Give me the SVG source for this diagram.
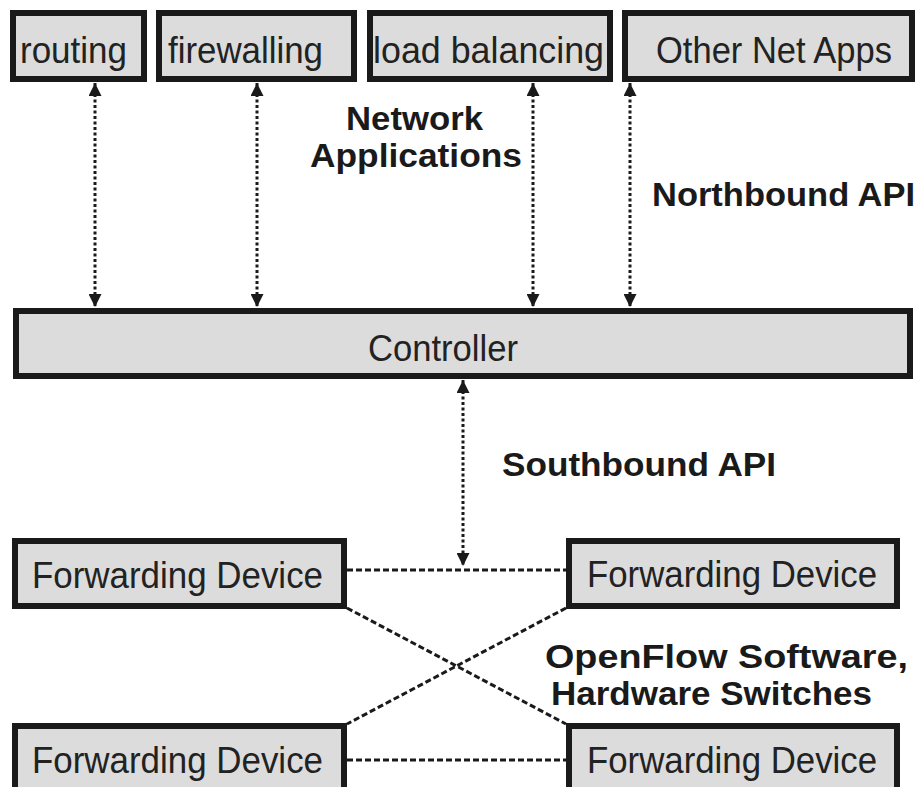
<svg xmlns="http://www.w3.org/2000/svg" width="920" height="787" viewBox="0 0 920 787">
<style>
.box{fill:#dcdcdc;stroke:#1a1a1a;stroke-width:6}
.t{font-family:"Liberation Sans",Arial,sans-serif;font-size:37px;fill:#222}
.b{font-family:"Liberation Sans",Arial,sans-serif;font-size:33px;font-weight:bold;fill:#1a1a1a}
.dot{stroke:#1a1a1a;stroke-width:3;stroke-dasharray:3 2.5;fill:none}
.dash{stroke:#1a1a1a;stroke-width:3;stroke-dasharray:6 3;fill:none}
</style>
<defs>
<marker id="ah" viewBox="0 0 13 13" refX="13" refY="6.5" markerUnits="userSpaceOnUse" markerWidth="13" markerHeight="13" orient="auto-start-reverse">
<path d="M0,0 L13,6.5 L0,13 z" fill="#1a1a1a"/>
</marker>
</defs>
<rect width="920" height="787" fill="#fff"/>
<g id="connectors">
<line class="dot" x1="95" y1="83" x2="95" y2="307" marker-start="url(#ah)" marker-end="url(#ah)"/>
<line class="dot" x1="257" y1="83" x2="257" y2="307" marker-start="url(#ah)" marker-end="url(#ah)"/>
<line class="dot" x1="533" y1="83" x2="533" y2="307" marker-start="url(#ah)" marker-end="url(#ah)"/>
<line class="dot" x1="630" y1="83" x2="630" y2="307" marker-start="url(#ah)" marker-end="url(#ah)"/>
<line class="dot" x1="463" y1="380" x2="463" y2="566" marker-start="url(#ah)" marker-end="url(#ah)"/>
<line class="dash" x1="347" y1="570" x2="566" y2="570"/>
<line class="dash" x1="347" y1="760" x2="566" y2="760"/>
<line class="dash" x1="347" y1="608" x2="566" y2="724"/>
<line class="dash" x1="566" y1="608" x2="347" y2="724"/>
</g>
<g id="routing"><rect class="box" x="13" y="13" width="131" height="66"/><text class="t" x="20" y="63" textLength="107" lengthAdjust="spacingAndGlyphs">routing</text></g>
<g id="firewalling"><rect class="box" x="159" y="13" width="195" height="66"/><text class="t" x="168" y="63" textLength="155" lengthAdjust="spacingAndGlyphs">firewalling</text></g>
<g id="load-balancing"><rect class="box" x="370" y="13" width="240" height="66"/><text class="t" x="373" y="63" textLength="231" lengthAdjust="spacingAndGlyphs">load balancing</text></g>
<g id="other-net-apps"><rect class="box" x="625" y="13" width="287" height="66"/><text class="t" x="656" y="63" textLength="236" lengthAdjust="spacingAndGlyphs">Other Net Apps</text></g>
<g id="network-applications-label"><text class="b" x="346" y="130" textLength="137" lengthAdjust="spacingAndGlyphs">Network</text><text class="b" x="310" y="167" textLength="212" lengthAdjust="spacingAndGlyphs">Applications</text></g>
<g id="northbound-label"><text class="b" x="652" y="206" textLength="263" lengthAdjust="spacingAndGlyphs">Northbound API</text></g>
<g id="controller"><rect class="box" x="16" y="311" width="894" height="65"/><text class="t" x="368" y="361" textLength="150" lengthAdjust="spacingAndGlyphs">Controller</text></g>
<g id="southbound-label"><text class="b" x="502" y="476" textLength="274" lengthAdjust="spacingAndGlyphs">Southbound API</text></g>
<g id="fd-top-left"><rect class="box" x="15" y="541" width="329" height="65"/><text class="t" x="32" y="588" textLength="291" lengthAdjust="spacingAndGlyphs">Forwarding Device</text></g>
<g id="fd-top-right"><rect class="box" x="569" y="541" width="328" height="65"/><text class="t" x="587" y="587" textLength="290" lengthAdjust="spacingAndGlyphs">Forwarding Device</text></g>
<g id="openflow-label"><text class="b" x="545" y="668" textLength="363" lengthAdjust="spacingAndGlyphs">OpenFlow Software,</text><text class="b" x="551" y="705" textLength="321" lengthAdjust="spacingAndGlyphs">Hardware Switches</text></g>
<g id="fd-bottom-left"><rect class="box" x="15" y="726" width="329" height="68"/><text class="t" x="32" y="773" textLength="291" lengthAdjust="spacingAndGlyphs">Forwarding Device</text></g>
<g id="fd-bottom-right"><rect class="box" x="569" y="726" width="328" height="68"/><text class="t" x="587" y="773" textLength="290" lengthAdjust="spacingAndGlyphs">Forwarding Device</text></g>
</svg>
